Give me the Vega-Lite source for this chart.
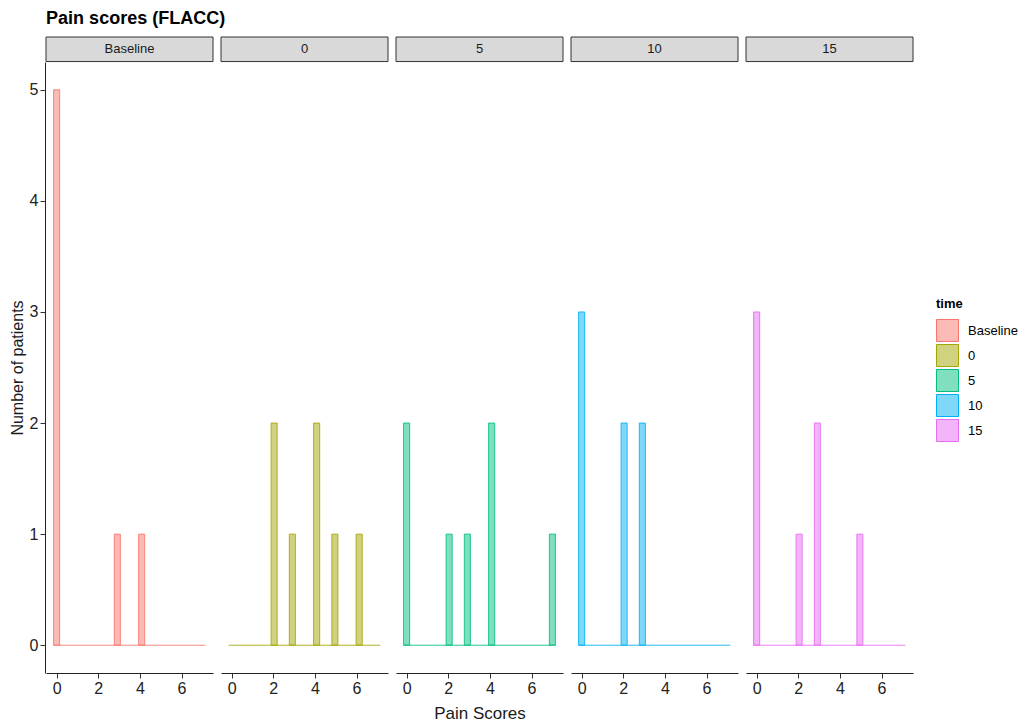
{
  "$schema": "https://vega.github.io/schema/vega-lite/v6.json",
  "background": "white",
  "padding": {"left": 9, "top": 9, "right": 5, "bottom": 5},
  "title": {"text": "Pain scores (FLACC)", "anchor": "start", "fontSize": 18, "fontWeight": "bold", "font": "Liberation Sans", "color": "#000000", "offset": 9, "dx": 37},
  "data": {"values": [
    {"time": "Baseline", "score": 0, "count": 5},
    {"time": "Baseline", "score": 3, "count": 1},
    {"time": "Baseline", "score": 4, "count": 1},
    {"time": "0", "score": 2, "count": 2},
    {"time": "0", "score": 3, "count": 1},
    {"time": "0", "score": 4, "count": 2},
    {"time": "0", "score": 5, "count": 1},
    {"time": "0", "score": 6, "count": 1},
    {"time": "5", "score": 0, "count": 2},
    {"time": "5", "score": 2, "count": 1},
    {"time": "5", "score": 3, "count": 1},
    {"time": "5", "score": 4, "count": 2},
    {"time": "5", "score": 7, "count": 1},
    {"time": "10", "score": 0, "count": 3},
    {"time": "10", "score": 2, "count": 2},
    {"time": "10", "score": 3, "count": 2},
    {"time": "15", "score": 0, "count": 3},
    {"time": "15", "score": 2, "count": 1},
    {"time": "15", "score": 3, "count": 2},
    {"time": "15", "score": 5, "count": 1}
  ]},
  "facet": {
    "column": {
      "field": "time", "type": "nominal",
      "sort": ["Baseline", "0", "5", "10", "15"],
      "header": {"labels": false, "title": "Pain Scores", "titleOrient": "bottom", "titleFontSize": 17, "titleFontWeight": "normal", "titleColor": "#1a1a1a", "titleFont": "Liberation Sans", "titlePadding": 0}
    }
  },
  "spacing": 6,
  "spec": {
    "width": 167,
    "height": 611,
    "layer": [
      {
        "transform": [
          {"bin": {"extent": [-0.145833, 7.145833], "step": 0.291667, "nice": false}, "field": "score", "as": ["b0", "b1"]}
        ],
        "mark": {"type": "bar", "fillOpacity": 0.5, "strokeWidth": 1, "strokeOpacity": 0.85},
        "encoding": {
          "x": {"field": "b0", "type": "quantitative", "scale": {"domain": [-0.51, 7.51], "nice": false, "zero": false},
                "axis": {"values": [0, 2, 4, 6], "title": null, "format": "d"}},
          "x2": {"field": "b1"},
          "y": {"field": "count", "type": "quantitative", "scale": {"domain": [-0.25, 5.25], "nice": false, "zero": false},
                "axis": {"values": [0, 1, 2, 3, 4, 5], "title": "Number of patients", "format": "d"}},
          "y2": {"datum": 0},
          "fill": {"field": "time", "type": "nominal", "title": "time",
                   "scale": {"domain": ["Baseline", "0", "5", "10", "15"], "range": ["#F8766D", "#A3A500", "#00BF7D", "#00B0F6", "#E76BF3"]},
                   "legend": {"orient": "none", "legendX": 890, "legendY": 236,
                              "encode": {"symbols": {"update": {"fillOpacity": {"value": 0.5}, "strokeOpacity": {"value": 1}}}}}},
          "stroke": {"field": "time", "type": "nominal", "title": "time",
                   "scale": {"domain": ["Baseline", "0", "5", "10", "15"], "range": ["#F8766D", "#A3A500", "#00BF7D", "#00B0F6", "#E76BF3"]},
                   "legend": {"orient": "none", "legendX": 890, "legendY": 236,
                              "encode": {"symbols": {"update": {"fillOpacity": {"value": 0.5}, "strokeOpacity": {"value": 1}}}}}}
        }
      },
      {
        "transform": [{"aggregate": [{"op": "count", "as": "k"}], "groupby": ["time"]}],
        "mark": {"type": "rule", "strokeWidth": 1, "strokeOpacity": 0.85},
        "encoding": {
          "x": {"datum": -0.145833},
          "x2": {"datum": 7.145833},
          "y": {"datum": 0},
          "stroke": {"field": "time", "type": "nominal", "title": "time"}
        }
      },
      {
        "transform": [{"aggregate": [{"op": "count", "as": "k"}], "groupby": ["time"]}],
        "mark": {"type": "rect", "fill": "#D9D9D9", "stroke": "#333333", "strokeWidth": 1},
        "encoding": {
          "x": {"datum": -0.51},
          "x2": {"datum": 7.51},
          "y": {"datum": 5.254},
          "y2": {"datum": 5.475}
        }
      },
      {
        "transform": [{"aggregate": [{"op": "count", "as": "k"}], "groupby": ["time"]}],
        "mark": {"type": "text", "fontSize": 13, "color": "#1a1a1a", "font": "Liberation Sans", "baseline": "middle"},
        "encoding": {
          "x": {"datum": 3.5},
          "y": {"datum": 5.364},
          "text": {"field": "time", "type": "nominal"}
        }
      }
    ]
  },
  "config": {
    "font": "Liberation Sans",
    "view": {"stroke": null},
    "axis": {"grid": false, "domainColor": "#222222", "domainWidth": 1, "tickColor": "#333333", "tickSize": 5,
             "labelFontSize": 16, "labelColor": "#222222", "labelPadding": 2, "labelFont": "Liberation Sans",
             "titleFontSize": 16, "titleFontWeight": "normal", "titleColor": "#1a1a1a", "titleFont": "Liberation Sans", "titlePadding": 4},
    "legend": {"titleFontSize": 13, "titleFontWeight": "bold", "titleColor": "#000000", "labelFontSize": 13, "labelColor": "#000000",
               "symbolType": "square", "symbolSize": 484, "symbolStrokeWidth": 1, "rowPadding": -2, "labelOffset": 9, "titlePadding": 8},
    "header": {"labelFontSize": 11}
  }
}
